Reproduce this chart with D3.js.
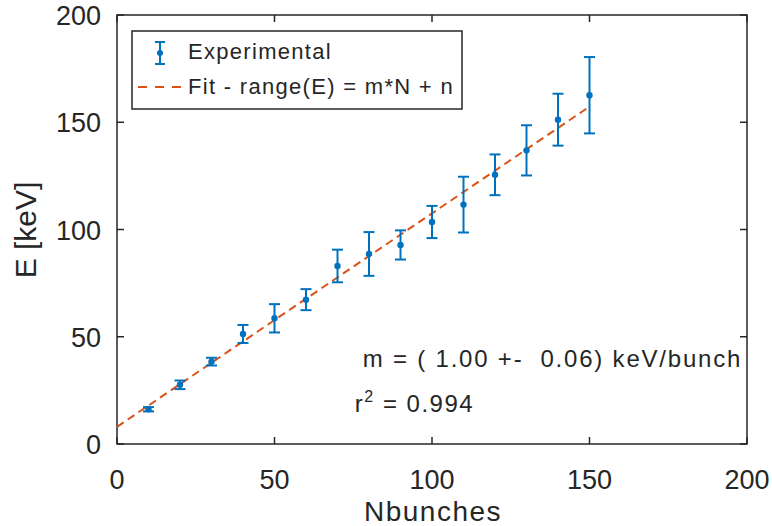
<!DOCTYPE html>
<meta charset="utf-8">
<style>
  body { margin: 0; background: #fff; }
  text { font-family: "Liberation Sans", Arial, Helvetica, sans-serif; fill: #262626; }
</style>
<script src="https://d3js.org/d3.v7.min.js"></script>
<div id="chart"></div>
<script>
  // measured points: bunches vs energy (keV) with error
  var nbunches = [10, 20, 30, 40, 50, 60, 70, 80, 90, 100, 110, 120, 130, 140, 150];
  var energy   = [16.2, 27.6, 38.4, 51.3, 58.6, 67.3, 83.0, 88.6, 92.8, 103.5, 111.6, 125.5, 136.9, 151.2, 162.6];
  var errors   = [1.0, 2.0, 1.8, 4.2, 6.6, 4.9, 7.6, 10.2, 6.8, 7.5, 13.0, 9.5, 11.7, 12.1, 17.8];

  // fitted line end points
  var fitN = [0, 150];
  var fitE = [8.0, 157.3];

  var xTicks = [0, 50, 100, 150, 200];
  var yTicks = [0, 50, 100, 150, 200];

  var width = 772, height = 526;
  var blue = "#0072BD", orange = "#D95319", axisColor = "#262626";

  var svg = d3.select("#chart").append("svg")
    .attr("width", width)
    .attr("height", height);

  var x = d3.scaleLinear().domain([0, 200]).range([117, 747]);
  var y = d3.scaleLinear().domain([0, 200]).range([444, 15]);

  // box + inner ticks on all sides
  var tickLen = 7;
  var axes = svg.append("g").attr("stroke", axisColor).attr("stroke-width", 1.5).attr("fill", "none");
  axes.append("rect")
    .attr("x", x(0)).attr("y", y(200))
    .attr("width", x(200) - x(0)).attr("height", y(0) - y(200));

  xTicks.forEach(function(t) {
    axes.append("line").attr("x1", x(t)).attr("x2", x(t)).attr("y1", y(0)).attr("y2", y(0) - tickLen);
    axes.append("line").attr("x1", x(t)).attr("x2", x(t)).attr("y1", y(200)).attr("y2", y(200) + tickLen);
  });
  yTicks.forEach(function(t) {
    axes.append("line").attr("x1", x(0)).attr("x2", x(0) + tickLen).attr("y1", y(t)).attr("y2", y(t));
    axes.append("line").attr("x1", x(200)).attr("x2", x(200) - tickLen).attr("y1", y(t)).attr("y2", y(t));
  });

  // tick labels
  svg.selectAll(".xlab").data(xTicks).enter().append("text")
    .attr("x", function(d) { return x(d); })
    .attr("y", 489)
    .attr("text-anchor", "middle")
    .style("font-size", "27px")
    .text(function(d) { return d; });

  svg.selectAll(".ylab").data(yTicks).enter().append("text")
    .attr("x", 101)
    .attr("y", function(d) { return y(d) + 10; })
    .attr("text-anchor", "end")
    .style("font-size", "27px")
    .text(function(d) { return d; });

  // axis titles
  svg.append("text")
    .attr("x", 433).attr("y", 521)
    .attr("text-anchor", "middle")
    .style("font-size", "28px")
    .style("letter-spacing", "1.5px")
    .text("Nbunches");

  svg.append("text")
    .attr("transform", "translate(36,230) rotate(-90)")
    .attr("text-anchor", "middle")
    .style("font-size", "30px")
    .text("E [keV]");

  // fit line
  var fitData = fitN.map(function(n, i) { return [n, fitE[i]]; });
  svg.append("path")
    .datum(fitData)
    .attr("d", d3.line().x(function(d) { return x(d[0]); }).y(function(d) { return y(d[1]); }))
    .attr("stroke", orange)
    .attr("stroke-width", 2)
    .attr("stroke-dasharray", "8,5")
    .attr("fill", "none");

  // error bars
  var pts = nbunches.map(function(n, i) { return { n: n, e: energy[i], err: errors[i] }; });
  var cap = 5.5;
  var eb = svg.append("g").attr("stroke", blue).attr("stroke-width", 2);
  pts.forEach(function(p) {
    var cx = x(p.n), top = y(p.e + p.err), bot = y(p.e - p.err);
    eb.append("line").attr("x1", cx).attr("x2", cx).attr("y1", top).attr("y2", bot);
    eb.append("line").attr("x1", cx - cap).attr("x2", cx + cap).attr("y1", top).attr("y2", top);
    eb.append("line").attr("x1", cx - cap).attr("x2", cx + cap).attr("y1", bot).attr("y2", bot);
  });
  svg.selectAll(".pt").data(pts).enter().append("circle")
    .attr("cx", function(d) { return x(d.n); })
    .attr("cy", function(d) { return y(d.e); })
    .attr("r", 3.2)
    .attr("fill", blue);

  // legend
  var lg = svg.append("g");
  lg.append("rect")
    .attr("x", 132).attr("y", 31).attr("width", 330).attr("height", 78)
    .attr("fill", "#fff").attr("stroke", axisColor).attr("stroke-width", 1.5);
  lg.append("line").attr("x1", 160).attr("x2", 160).attr("y1", 42).attr("y2", 64)
    .attr("stroke", blue).attr("stroke-width", 2);
  lg.append("line").attr("x1", 155).attr("x2", 165).attr("y1", 42).attr("y2", 42)
    .attr("stroke", blue).attr("stroke-width", 2);
  lg.append("line").attr("x1", 155).attr("x2", 165).attr("y1", 64).attr("y2", 64)
    .attr("stroke", blue).attr("stroke-width", 2);
  lg.append("circle").attr("cx", 160).attr("cy", 53).attr("r", 3).attr("fill", blue);
  lg.append("text").attr("x", 188).attr("y", 59)
    .style("font-size", "22px").style("letter-spacing", "1.3px")
    .text("Experimental");
  lg.append("line").attr("x1", 138).attr("x2", 181).attr("y1", 87).attr("y2", 87)
    .attr("stroke", orange).attr("stroke-width", 2).attr("stroke-dasharray", "9,8");
  lg.append("text").attr("x", 188).attr("y", 94)
    .style("font-size", "22px").style("letter-spacing", "1.3px")
    .text("Fit - range(E) = m*N + n");

  // annotations
  svg.append("text")
    .attr("x", x(78)).attr("y", 367)
    .style("font-size", "24px").style("letter-spacing", "1.8px")
    .style("white-space", "pre")
    .attr("xml:space", "preserve")
    .text("m = ( 1.00 +-  0.06) keV/bunch");

  var r2 = svg.append("text")
    .attr("x", x(75.5)).attr("y", 412)
    .style("font-size", "24px").style("letter-spacing", "1.5px");
  r2.append("tspan").text("r");
  r2.append("tspan").attr("dy", -10).style("font-size", "16px").text("2");
  r2.append("tspan").attr("dy", 10).text(" = 0.994");
</script>
